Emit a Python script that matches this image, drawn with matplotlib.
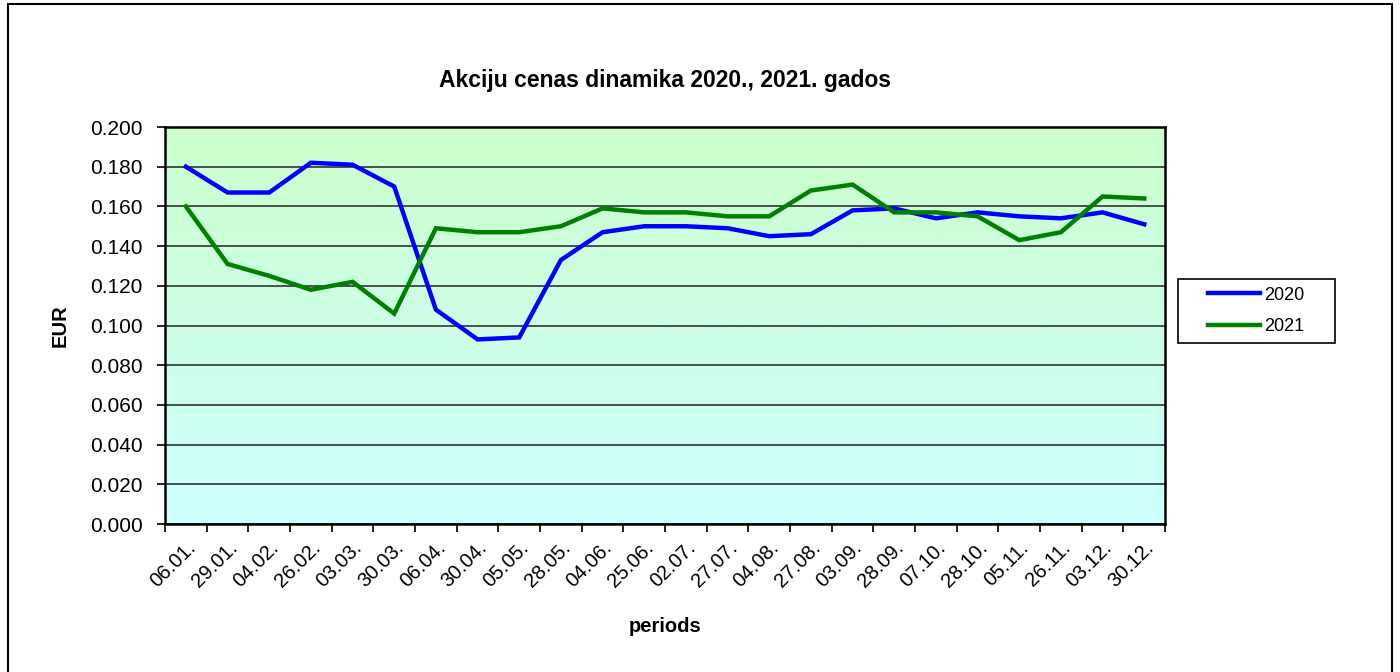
import numpy as np
import matplotlib.pyplot as plt
from matplotlib.colors import LinearSegmentedColormap
from matplotlib.patches import Rectangle

plt.rcParams['font.family'] = ['Liberation Sans', 'DejaVu Sans']

periods = ["06.01.", "29.01.", "04.02.", "26.02.", "03.03.", "30.03.", "06.04.", "30.04.",
           "05.05.", "28.05.", "04.06.", "25.06.", "02.07.", "27.07.", "04.08.", "27.08.",
           "03.09.", "28.09.", "07.10.", "28.10.", "05.11.", "26.11.", "03.12.", "30.12."]

price2020 = [0.180, 0.167, 0.167, 0.182, 0.181, 0.170, 0.108, 0.093, 0.094, 0.133, 0.147, 0.150,
             0.150, 0.149, 0.145, 0.146, 0.158, 0.159, 0.154, 0.157, 0.155, 0.154, 0.157, 0.151]
price2021 = [0.160, 0.131, 0.125, 0.118, 0.122, 0.106, 0.149, 0.147, 0.147, 0.150, 0.159, 0.157,
             0.157, 0.155, 0.155, 0.168, 0.171, 0.157, 0.157, 0.155, 0.143, 0.147, 0.165, 0.164]

yticks = [0.000, 0.020, 0.040, 0.060, 0.080, 0.100, 0.120, 0.140, 0.160, 0.180, 0.200]

fig = plt.figure(figsize=(14, 6.72), dpi=100)
ax = fig.add_axes([0.1179, 0.2202, 0.7143, 0.5908])

# light green -> light cyan background
cmap = LinearSegmentedColormap.from_list("bg", ["#ccffff", "#ccffcc"])
grad = np.linspace(0, 1, 256).reshape(-1, 1)
ax.imshow(grad, cmap=cmap, extent=[0, 1, 0, 1], transform=ax.transAxes,
          aspect="auto", origin="lower", zorder=0)

x = np.arange(len(periods))
ax.plot(x, price2020, color="#0000ff", lw=3.2, label="2020", zorder=3, solid_joinstyle="miter")
ax.plot(x, price2021, color="#008000", lw=3.2, label="2021", zorder=3, solid_joinstyle="miter")

ax.set_xlim(-0.5, len(periods) - 0.5)
ax.set_ylim(0, 0.2)
ax.set_yticks(yticks)
ax.set_yticklabels(["%.3f" % v for v in yticks], fontsize=15)
ax.yaxis.grid(True, color="#222222", lw=1.1, zorder=1)
ax.set_axisbelow(False)

ax.set_xticks(x)
ax.set_xticklabels(periods, rotation=45, ha="right", va="top", rotation_mode="anchor", fontsize=14.5)
ax.set_xticks(np.arange(len(periods) + 1) - 0.5, minor=True)
ax.tick_params(axis="x", which="major", length=0, pad=10)
ax.tick_params(axis="x", which="minor", length=6, width=1.2, direction="out")
ax.tick_params(axis="y", length=6, width=1.2, direction="out", pad=10)

for s in ax.spines.values():
    s.set_linewidth(1.8)
    s.set_zorder(4)

ax.set_title("Akciju cenas dinamika 2020., 2021. gados", fontsize=16.5, fontweight="bold", pad=29)
ax.set_ylabel("EUR", fontsize=14.5, fontweight="bold", labelpad=15)
ax.set_xlabel("periods", fontsize=14.5, fontweight="bold", labelpad=19)

# legend box is wider than the entries, so the frame is drawn separately
ax.add_patch(Rectangle((1.013, 0.456), 0.157, 0.161, transform=ax.transAxes, clip_on=False,
                       fill=False, edgecolor="black", lw=1.2))
ax.legend(loc="center left", bbox_to_anchor=(1.043, 0.5365), fontsize=13, frameon=False,
          handlelength=2.9, handletextpad=0.2, labelspacing=0.8, borderpad=0, borderaxespad=0)

# outer chart border
fig.patches.append(Rectangle((8 / 1400, -0.02), 1384 / 1400, 1.02 - 4 / 672, transform=fig.transFigure,
                             fill=False, edgecolor="black", lw=1.5))

fig.savefig("out.png", dpi=100)
